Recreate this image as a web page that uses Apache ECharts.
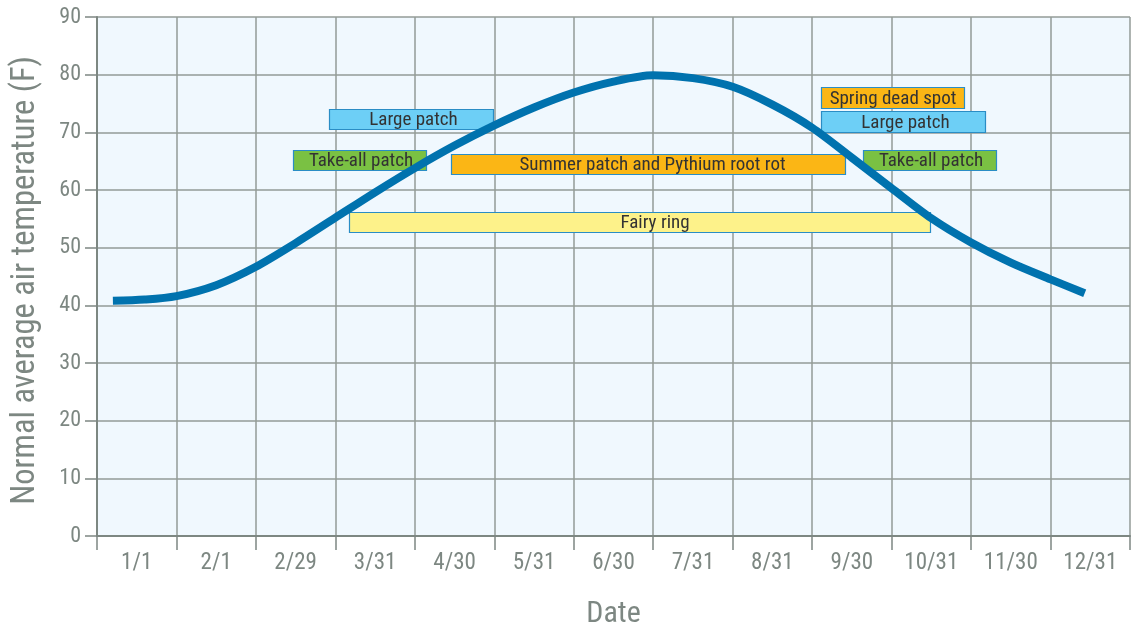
<!DOCTYPE html>
<html>
<head>
<meta charset="utf-8">
<script src="https://cdn.jsdelivr.net/npm/echarts@6/dist/echarts.min.js"></script>
<style>
  html, body { margin: 0; padding: 0; background: #ffffff; }
  #chart { width: 1135px; height: 631px; }
</style>
</head>
<body>
<div id="chart"></div>
<script>
// ---- Data ----
const dateLabels = ['1/1', '2/1', '2/29', '3/31', '4/30', '5/31', '6/30', '7/31', '8/31', '9/30', '10/31', '11/30', '12/31'];

// temperature curve: position along the date axis (in month-band units) and temperature (F)
const tempPos = [0.2, 0.6, 1.0, 1.5, 2.0, 2.5, 3.0, 3.5, 4.0, 4.5, 5.0, 5.5, 6.0, 6.5, 7.0, 7.5, 8.0, 8.5, 9.0, 9.5, 10.0, 10.5, 11.0, 11.5, 12.0, 12.43];
const tempValues = [40.8, 41.0, 41.6, 43.5, 46.7, 50.8, 55.2, 59.6, 63.8, 67.7, 71.2, 74.3, 76.9, 78.8, 79.9, 79.4, 77.9, 74.8, 70.8, 65.6, 60.3, 55.1, 50.9, 47.4, 44.5, 42.1];

// disease windows: name, start/end along date axis (band units), temperature range (F)
const diseaseNames = ['Large patch', 'Take-all patch', 'Summer patch and Pythium root rot', 'Spring dead spot', 'Large patch', 'Take-all patch', 'Fairy ring'];
const diseaseStart = [2.92, 2.47, 4.45, 9.11, 9.11, 9.64, 3.17];
const diseaseEnd   = [4.99, 4.14, 9.41, 10.91, 11.18, 11.32, 10.48];
const diseaseLow   = [70.5, 63.5, 62.8, 74.3, 70.0, 63.4, 52.8];
const diseaseHigh  = [74.0, 66.9, 66.2, 77.9, 73.7, 66.9, 56.2];

const yTicks = [0, 10, 20, 30, 40, 50, 60, 70, 80, 90];

// ---- Styles ----
const FONT = "'Liberation Sans Narrow', 'Roboto Condensed', 'DejaVu Sans Condensed', 'Liberation Sans', sans-serif";
const GRAY = '#7d8782';
const GRID = '#939b97';
const diseaseColors = {
  'Large patch': '#6dcff6',
  'Take-all patch': '#7ac143',
  'Summer patch and Pythium root rot': '#fbb615',
  'Spring dead spot': '#fbb615',
  'Fairy ring': '#fdf28a'
};
const labelShift = { 'Fairy ring': 15, 'Summer patch and Pythium root rot': 4, 'Large patch': 2, 'Take-all patch': 1 };

const chart = echarts.init(document.getElementById('chart'), null, { renderer: 'canvas' });

const boxData = diseaseNames.map((n, i) => [diseaseStart[i], diseaseEnd[i], diseaseLow[i], diseaseHigh[i], i]);

function renderBox(params, api) {
  const idx = api.value(4);
  const name = diseaseNames[idx];
  const p0 = api.coord([api.value(0), api.value(3)]);
  const p1 = api.coord([api.value(1), api.value(2)]);
  const x = Math.round(p0[0]) + 0.5, y = Math.round(p0[1]) + 0.5;
  const w = Math.round(p1[0] - p0[0]), h = Math.round(p1[1] - p0[1]);
  return {
    type: 'group',
    children: [
      { type: 'rect', shape: { x: x, y: y, width: w, height: h },
        style: { fill: diseaseColors[name], stroke: '#2a8dc5', lineWidth: 1.2 } },
      { type: 'text',
        style: { text: name, x: x + w / 2 + (labelShift[name] || 0), y: y + h / 2 + 1, align: 'center', verticalAlign: 'middle',
                 fontSize: 19, fontFamily: FONT, fill: '#333333' } }
    ]
  };
}

const option = {
  animation: false,
  grid: { left: 97, right: 5, top: 17, bottom: 95, show: true, backgroundColor: '#f0f8fe', borderWidth: 0,
          containLabel: false, outerBoundsMode: 'none' },
  xAxis: [
    {
      type: 'category',
      data: dateLabels,
      boundaryGap: true,
      name: 'Date',
      nameLocation: 'middle',
      nameGap: 63,
      nameTextStyle: { fontSize: 30, color: GRAY, fontFamily: FONT },
      axisLine: { show: true, lineStyle: { color: GRAY, width: 2 } },
      axisTick: { show: true, length: 14, alignWithLabel: false, lineStyle: { color: GRAY, width: 1.5 } },
      axisLabel: { fontSize: 23, color: GRAY, fontFamily: FONT, margin: 16 },
      splitLine: { show: true, lineStyle: { color: GRID, width: 1.5 } }
    },
    { type: 'value', min: 0, max: 13, show: false, splitLine: { show: false } }
  ],
  yAxis: {
    type: 'value',
    min: 0, max: 90, interval: 10,
    name: 'Normal average air temperature (F)',
    nameLocation: 'middle',
    nameGap: 55,
    nameRotate: 90,
    nameTextStyle: { fontSize: 32.5, color: GRAY, fontFamily: FONT, padding: [0, 8, 0, 0] },
    axisLine: { show: true, lineStyle: { color: GRAY, width: 2 } },
    axisTick: { show: true, length: 12, lineStyle: { color: GRAY, width: 1.5 } },
    axisLabel: { fontSize: 22, color: GRAY, fontFamily: FONT, margin: 16,
                 formatter: v => (yTicks.indexOf(v) >= 0 ? String(v) : '') },
    splitLine: { show: true, lineStyle: { color: GRID, width: 1.5 } }
  },
  series: [
    { type: 'custom', xAxisIndex: 1, z: 2, renderItem: renderBox, data: boxData, silent: true },
    {
      type: 'line', xAxisIndex: 1, z: 3, smooth: 0.3, symbol: 'none',
      lineStyle: { color: '#0072ae', width: 8, cap: 'butt' },
      data: tempPos.map((p, i) => [p, tempValues[i]])
    }
  ]
};

chart.setOption(option);
</script>
</body>
</html>
